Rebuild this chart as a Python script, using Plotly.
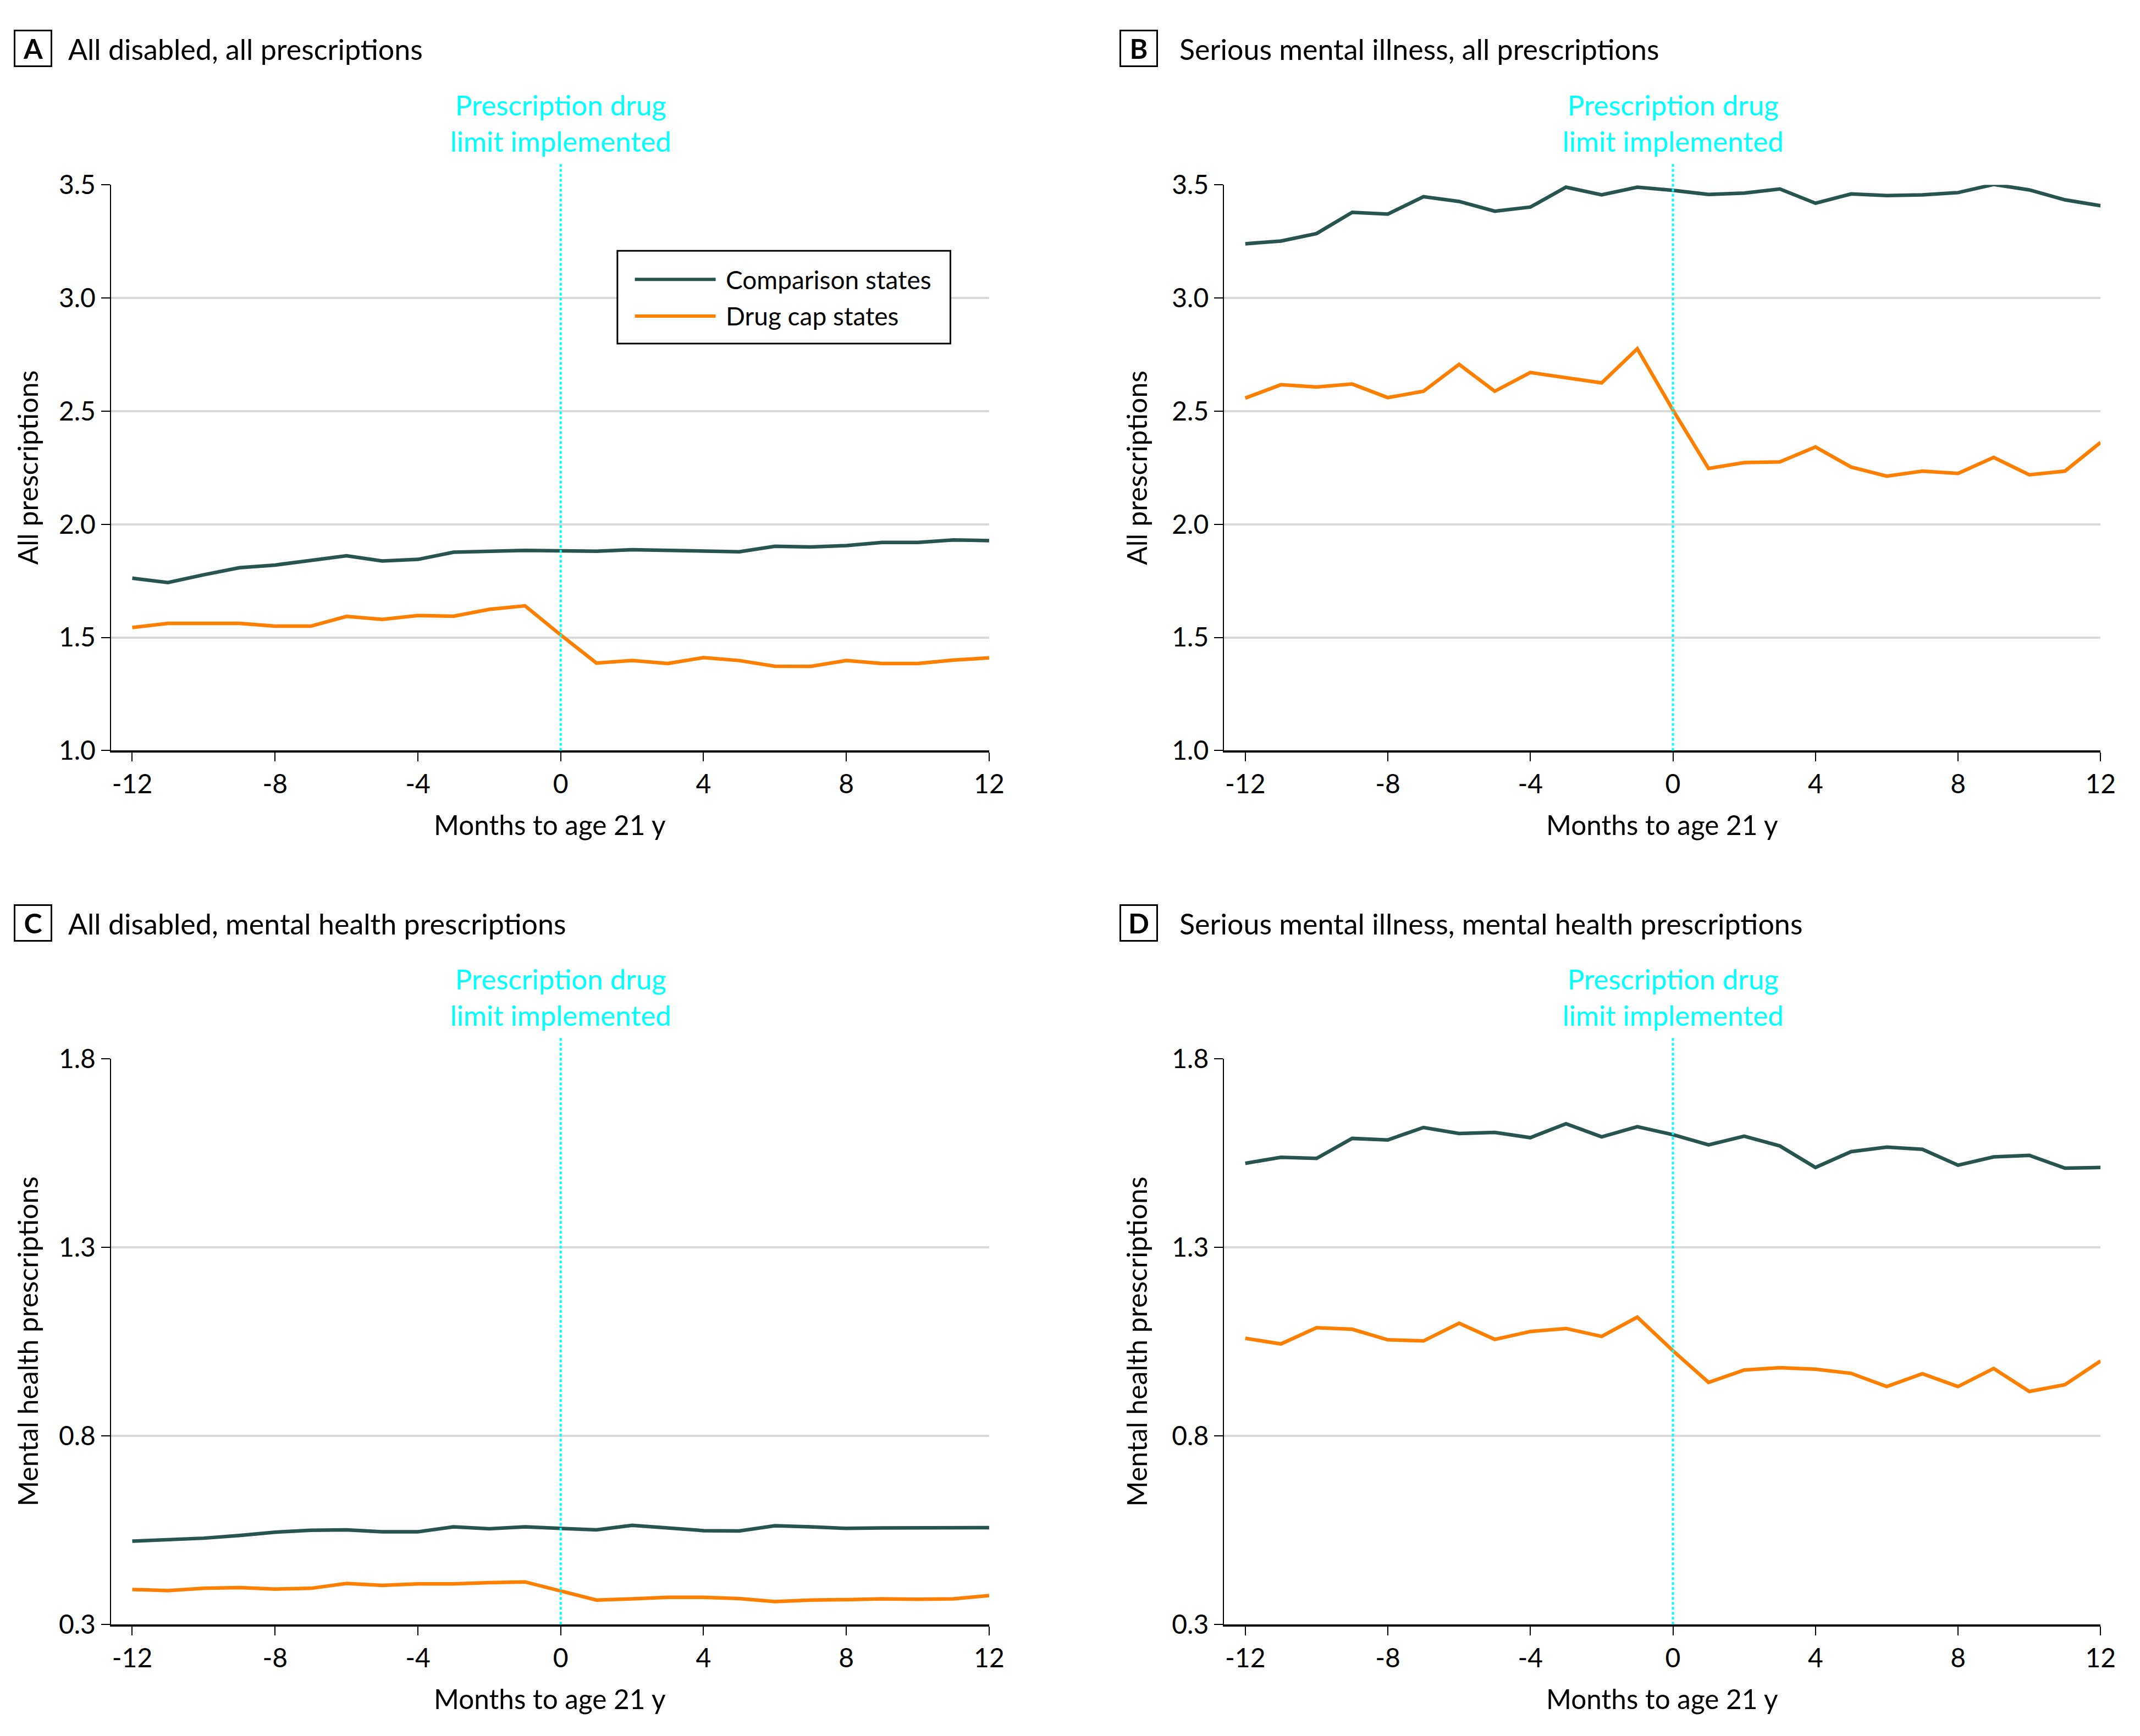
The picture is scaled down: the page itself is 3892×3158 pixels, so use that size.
import plotly.graph_objects as go

W, H = 3892, 3158

months = list(range(-12, 13))
x_ticks = [-12, -8, -4, 0, 4, 8, 12]
y_ticks_all = [1.0, 1.5, 2.0, 2.5, 3.0, 3.5]
y_ticks_mh = [0.3, 0.8, 1.3, 1.8]

series_names = ["Comparison states", "Drug cap states"]

A_comp = [1.762, 1.743, 1.777, 1.808, 1.820, 1.840, 1.861, 1.838, 1.845, 1.877, 1.881, 1.885, 1.883,
          1.881, 1.888, 1.885, 1.883, 1.879, 1.903, 1.900, 1.906, 1.920, 1.920, 1.931, 1.928]
A_cap = [1.544, 1.562, 1.562, 1.562, 1.550, 1.550, 1.593, 1.580, 1.597, 1.594, 1.624, 1.640, 1.511,
         1.387, 1.398, 1.385, 1.411, 1.398, 1.373, 1.372, 1.398, 1.385, 1.385, 1.400, 1.410]
B_comp = [3.240, 3.252, 3.285, 3.379, 3.371, 3.448, 3.427, 3.384, 3.402, 3.490, 3.456, 3.490, 3.476,
          3.458, 3.464, 3.482, 3.419, 3.460, 3.453, 3.456, 3.466, 3.502, 3.478, 3.434, 3.408]
B_cap = [2.558, 2.617, 2.607, 2.620, 2.560, 2.588, 2.707, 2.588, 2.671, 2.647, 2.625, 2.776, 2.505,
         2.247, 2.273, 2.276, 2.342, 2.253, 2.213, 2.235, 2.225, 2.296, 2.219, 2.235, 2.362]
C_comp = [0.521, 0.525, 0.529, 0.536, 0.545, 0.550, 0.551, 0.546, 0.546, 0.559, 0.554, 0.559, 0.555,
          0.551, 0.563, 0.555, 0.549, 0.548, 0.562, 0.559, 0.555, 0.556, 0.557, 0.557, 0.557]
C_cap = [0.393, 0.390, 0.396, 0.398, 0.394, 0.396, 0.409, 0.404, 0.408, 0.408, 0.411, 0.413, 0.389,
         0.365, 0.368, 0.372, 0.372, 0.369, 0.361, 0.365, 0.366, 0.368, 0.367, 0.368, 0.377]
D_comp = [1.523, 1.539, 1.536, 1.589, 1.585, 1.618, 1.602, 1.605, 1.591, 1.628, 1.593, 1.620, 1.599,
          1.572, 1.595, 1.569, 1.512, 1.554, 1.566, 1.560, 1.518, 1.540, 1.544, 1.510, 1.512]
D_cap = [1.059, 1.044, 1.087, 1.083, 1.055, 1.052, 1.099, 1.056, 1.077, 1.085, 1.064, 1.115, 1.026,
         0.942, 0.975, 0.981, 0.977, 0.966, 0.931, 0.965, 0.931, 0.979, 0.918, 0.936, 0.999]

panel_letters = ["A", "B", "C", "D"]
panel_titles = ["All disabled, all prescriptions", "Serious mental illness, all prescriptions",
                "All disabled, mental health prescriptions", "Serious mental illness, mental health prescriptions"]
y_titles = ["All prescriptions", "All prescriptions", "Mental health prescriptions", "Mental health prescriptions"]
x_title = "Months to age 21 y"
event_label = "Prescription drug<br>limit implemented"

COMP = "#285450"
CAP = "#ff8000"
CYAN = "#00ffff"
GRID = "#d9d9d9"
FONT = "Lato"


def px(x):
    return x / W


def py(y):
    return 1 - y / H


# panel geometry in pixels
col_x = [(203, 1812), (2242, 3848)]
row_y = [(312, 1360), (1931, 2979)]
box_cx = [60, 2086]
title_x = [122.6, 2159]
ytitle_x = [50, 2086 - 4]
title_cy = [60, 1680]

data = [(A_comp, A_cap), (B_comp, B_cap), (C_comp, C_cap), (D_comp, D_cap)]
yranges = [[1.0, 3.5], [1.0, 3.5], [0.3, 1.8], [0.3, 1.8]]
yticks = [y_ticks_all, y_ticks_all, y_ticks_mh, y_ticks_mh]

fig = go.Figure()
layout = dict(width=W, height=H, margin=dict(l=0, r=0, t=0, b=0),
              paper_bgcolor="white", plot_bgcolor="white", showlegend=False,
              font=dict(family=FONT, size=48, color="black"))
shapes = []
annotations = []

for i in range(4):
    r, c = divmod(i, 2)
    xa = "xaxis" if i == 0 else f"xaxis{i + 1}"
    ya = "yaxis" if i == 0 else f"yaxis{i + 1}"
    xr = "x" if i == 0 else f"x{i + 1}"
    yr = "y" if i == 0 else f"y{i + 1}"
    x0p, x1p = col_x[c]
    y0p, y1p = row_y[r]
    hpx = y1p - y0p
    comp, cap = data[i]
    fig.add_trace(go.Scatter(x=months, y=comp, mode="lines", name=series_names[0],
                             line=dict(color=COMP, width=6.5), xaxis=xr, yaxis=yr))
    fig.add_trace(go.Scatter(x=months, y=cap, mode="lines", name=series_names[1],
                             line=dict(color=CAP, width=6.5), xaxis=xr, yaxis=yr))
    layout[xa] = dict(domain=[px(x0p), px(x1p)], range=[-12.6, 12], anchor=yr,
                      tickvals=x_ticks, ticktext=[str(v) for v in x_ticks],
                      ticks="outside", ticklen=16, tickwidth=2, tickcolor="black",
                      showline=True, linecolor="black", linewidth=4,
                      showgrid=False, zeroline=False, tickfont=dict(size=48))
    layout[ya] = dict(domain=[py(y1p), py(y0p)], range=yranges[i], anchor=xr,
                      tickvals=yticks[i], ticktext=[f"{v:.1f}" for v in yticks[i]],
                      ticks="outside", ticklen=16, tickwidth=2, tickcolor="black",
                      showline=True, linecolor="black", linewidth=2,
                      showgrid=True, gridcolor=GRID, gridwidth=4, zeroline=False,
                      tickfont=dict(size=48))
    # event line
    shapes.append(dict(type="line", xref=xr, yref=f"{yr} domain", x0=0, x1=0, y0=0,
                       y1=1 + 42 / hpx, line=dict(color=CYAN, width=4, dash="5px,4px")))
    annotations.append(dict(text=event_label, xref=xr, yref=f"{yr} domain", x=0,
                            y=1 + 115 / hpx, showarrow=False, xanchor="center",
                            yanchor="middle", font=dict(size=51, color=CYAN, family=FONT)))
    # panel letter box and title
    annotations.append(dict(text=f"<b>{panel_letters[i]}</b>", xref="paper", yref="paper",
                            x=px(box_cx[c]), y=py(title_cy[r] - 1), xanchor="center", yanchor="middle",
                            showarrow=False, width=64, height=62, bordercolor="black",
                            borderwidth=3, borderpad=0, font=dict(size=50, family=FONT)))
    annotations.append(dict(text=panel_titles[i], xref="paper", yref="paper",
                            x=px(title_x[c]), y=py(title_cy[r]), xanchor="left", yanchor="middle",
                            showarrow=False, font=dict(size=52, family=FONT)))
    # axis titles
    annotations.append(dict(text=y_titles[i], xref="paper", yref="paper", textangle=-90,
                            x=px(ytitle_x[c]), y=py((y0p + y1p) / 2), xanchor="center",
                            yanchor="middle", showarrow=False, font=dict(size=50, family=FONT)))
    annotations.append(dict(text=x_title, xref="paper", yref="paper",
                            x=px((x0p + x1p) / 2), y=py(y1p + 137), xanchor="center",
                            yanchor="middle", showarrow=False, font=dict(size=49.5, family=FONT)))

# custom legend in panel A
lx0, lx1, ly0, ly1 = 1131, 1741, 434, 606
shapes.append(dict(type="rect", xref="paper", yref="paper", x0=px(lx0), x1=px(lx1),
                   y0=py(ly1), y1=py(ly0), line=dict(color="black", width=3),
                   fillcolor="white", layer="above"))
for name, col, yy in [(series_names[0], COMP, 487), (series_names[1], CAP, 555)]:
    shapes.append(dict(type="line", xref="paper", yref="paper", x0=px(1163), x1=px(1311),
                       y0=py(yy), y1=py(yy), line=dict(color=col, width=6), layer="above"))
    annotations.append(dict(text=name, xref="paper", yref="paper", x=px(1328), y=py(yy),
                            xanchor="left", yanchor="middle", showarrow=False,
                            font=dict(size=46, family=FONT)))

layout["shapes"] = shapes
layout["annotations"] = annotations
fig.update_layout(**layout)

fig.write_html("out.html", config={"displayModeBar": False},
               post_script="document.body.style.margin='0';")
